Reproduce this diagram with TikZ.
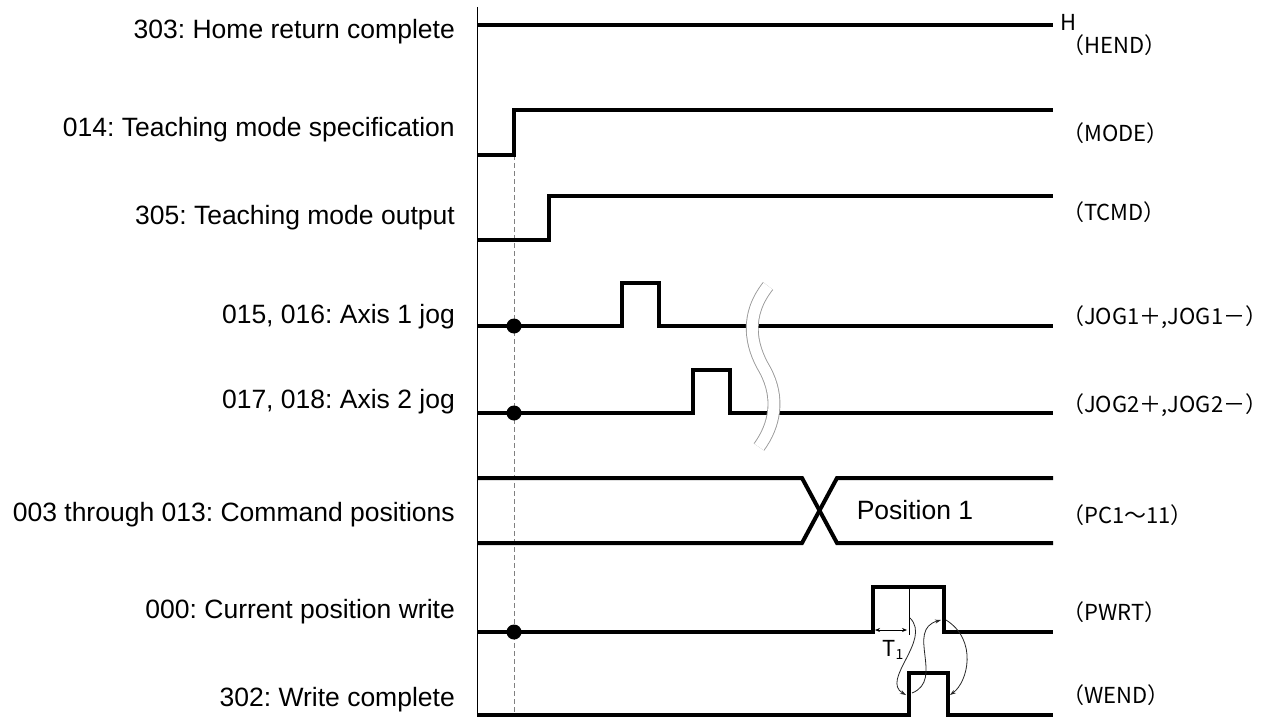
\documentclass[tikz,border=0pt]{standalone}
\usepackage{fontspec}
\setmainfont{Liberation Sans}
\newfontfamily\jp{Noto Sans CJK JP}
\usetikzlibrary{arrows.meta}
\frenchspacing
\begin{document}
\begin{tikzpicture}[x=1pt,y=-1pt,
  sig/.style={line width=4pt, line join=miter},
  lab/.style={anchor=east, inner sep=0pt, font=\fontsize{26.5}{30}\selectfont},
  rlab/.style={anchor=west, inner sep=0pt, font=\jp\fontsize{22}{24}\selectfont},
  thinarr/.style={line width=0.8pt, black!85, -{Stealth[length=6pt,width=4pt]}},
  dot/.style={circle, fill=black, inner sep=0pt, minimum size=15pt},
]
\useasboundingbox (0,0) rectangle (1269,717);
% axis and guide
\draw[line width=1pt] (477,7) -- (477,717);
\draw[gray, line width=0.8pt, dash pattern=on 5pt off 3pt] (514,155) -- (514,717);
% left labels
\node[lab] (l1) at (455,32) {303: Home return complete};
\node[lab] (l2) at (455,130) {014: Teaching mode specification};
\node[lab] (l3) at (455,218) {305: Teaching mode output};
\node[lab] (l4) at (455,317) {015, 016: Axis 1 jog};
\node[lab] (l5) at (455,402) {017, 018: Axis 2 jog};
\node[lab] (l6) at (455,515) {003 through 013: Command positions};
\node[lab] (l7) at (455,612) {000: Current position write};
\node[lab] (l8) at (455,700) {302: Write complete};
% right labels
\node[rlab] (h) at (1060,22) {H};
\node[rlab] (r1) at (1062,45) {（HEND）};
\node[rlab] (r2) at (1062,133) {（MODE）};
\node[rlab] (r3) at (1062,212) {（TCMD）};
\node[rlab] (r4) at (1062,317) {（JOG1＋,JOG1－）};
\node[rlab] (r5) at (1062,405) {（JOG2＋,JOG2－）};
\node[rlab] (r6) at (1062,515) {（PC1～11）};
\node[rlab] (r7) at (1062,612) {（PWRT）};
\node[rlab] (r8) at (1062,695) {（WEND）};
% signals
\draw[sig] (477,25) -- (1053,25);
\draw[sig] (477,155) -- (514,155) -- (514,110) -- (1053,110);
\draw[sig] (477,240) -- (549,240) -- (549,196) -- (1053,196);
\draw[sig] (477,326) -- (622,326) -- (622,283) -- (659,283) -- (659,326) -- (1053,326);
\draw[sig] (477,413) -- (693,413) -- (693,370) -- (730,370) -- (730,413) -- (1053,413);
\draw[sig] (477,478) -- (802,478) -- (837,543) -- (1053,543);
\draw[sig] (477,543) -- (802,543) -- (837,478) -- (1053,478);
\draw[sig] (477,632) -- (873,632) -- (873,587) -- (944,587) -- (944,632) -- (1053,632);
\draw[sig] (477,715) -- (909,715) -- (909,673) -- (948,673) -- (948,715) -- (1053,715);
% dots
\node[dot] (d1) at (514,326) {};
\node[dot] (d2) at (514,413) {};
\node[dot] (d3) at (514,632) {};
% break mark
\draw[gray!80, line width=0.9pt, double=white, double distance=11pt]
  (768,286) .. controls (745,315) and (750,345) .. (765,370) .. controls (780,398) and (775,425) .. (759,447);
% Position 1
\node[inner sep=0pt, font=\fontsize{26.5}{30}\selectfont] (p1) at (915,510) {Position 1};
% timing details
\coordinate (tA) at (909,587);
\coordinate (tB) at (909,635);
\draw[line width=0.8pt] (tA) -- (tB);
\coordinate (t1a) at (875,630);
\coordinate (t1b) at (907,630);
\draw[line width=0.8pt, {Stealth[length=5pt,width=4pt]}-{Stealth[length=5pt,width=4pt]}] (t1a) -- (t1b);
\node[inner sep=0pt, font=\jp\fontsize{22}{24}\selectfont] (t1) at (893,650) {T\raisebox{-0.25ex}{\fontsize{14}{15}\selectfont 1}};
\coordinate (a1s) at (910,618);
\coordinate (a1e) at (906,695);
\draw[thinarr] (a1s) .. controls (932,640) and (880,680) .. (a1e);
\coordinate (a2s) at (912,693);
\coordinate (a2e) at (941,620);
\draw[thinarr] (a2s) .. controls (945,680) and (905,630) .. (a2e);
\coordinate (a3s) at (946,620);
\coordinate (a3e) at (950,695);
\draw[thinarr] (a3s) .. controls (978,640) and (968,682) .. (a3e);
\end{tikzpicture}
\end{document}
